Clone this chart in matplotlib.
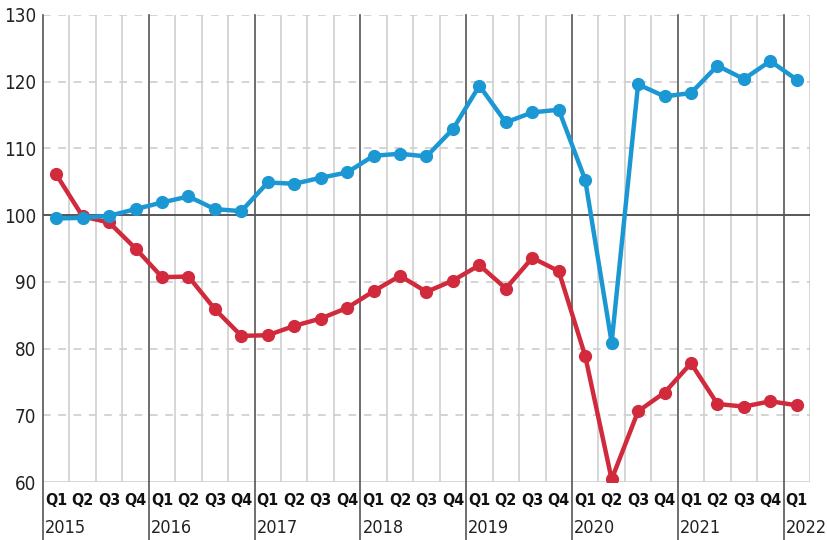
import numpy as np
import matplotlib
matplotlib.use("Agg")
from matplotlib import pyplot as plt

quarters = ["Q1", "Q2", "Q3", "Q4"] * 7 + ["Q1"]
years = ["2015", "2016", "2017", "2018", "2019", "2020", "2021", "2022"]

blue = [99.5, 99.6, 99.9, 100.9, 101.9, 102.8, 100.9, 100.6,
        104.9, 104.7, 105.6, 106.4, 108.9, 109.2, 108.8, 112.9,
        119.4, 113.9, 115.4, 115.8, 105.3, 80.9, 119.6, 117.8,
        118.3, 122.4, 120.4, 123.1, 120.3]
red = [106.1, 99.8, 98.9, 95.0, 90.7, 90.8, 85.9, 81.9,
       82.0, 83.4, 84.5, 86.1, 88.6, 90.9, 88.5, 90.2,
       92.5, 89.0, 93.6, 91.6, 78.9, 60.4, 70.6, 73.4,
       77.8, 71.7, 71.3, 72.1, 71.5]

plt.rcParams['font.family'] = ["DejaVu Sans"]
plt.rcParams['font.stretch'] = "condensed"

fig = plt.figure(figsize=(8.28, 5.40), dpi=100)
ax = fig.add_axes([43 / 828, 58 / 540, 767 / 828, 467 / 540])

n = len(blue)
x = np.arange(n)
ax.set_xlim(-0.5, n - 0.5)
ax.set_ylim(60, 130)

# horizontal grid
for v in range(70, 131, 10):
    if v == 100:
        continue
    ax.axhline(v, color="#c9c9c9", lw=1.1, ls=(0, (5, 5)), zorder=1)
ax.axhline(60, color="#d0d0d0", lw=1.2, zorder=1)
ax.axhline(100, color="#4a4a4a", lw=1.3, zorder=2)

# vertical grid: dark at year boundaries, light at quarters
for i in range(n + 1):
    xb = i - 0.5
    if i % 4 == 0:
        ax.plot([xb, xb], [-0.165, 1], transform=ax.get_xaxis_transform(),
                color="#555555", lw=1.2, clip_on=False, zorder=2)
    else:
        ax.axvline(xb, color="#cfcfcf", lw=1.2, zorder=1)

ax.plot(x, red, color="#d12a3c", lw=3.2, marker="o", ms=8.5, zorder=4)
ax.plot(x, blue, color="#1b98d3", lw=3.2, marker="o", ms=8.5, zorder=5)

for s in ax.spines.values():
    s.set_visible(False)

ax.set_yticks(range(60, 131, 10))
ax.set_yticklabels([str(v) for v in range(60, 131, 10)], fontsize=13.5,
                   color="#222222", fontstretch="condensed")
ax.tick_params(axis="y", length=0, pad=5)
ax.set_xticks(x)
ax.set_xticklabels(quarters, fontsize=11.5, fontweight="bold", color="#111111",
                   fontstretch="condensed")
ax.tick_params(axis="x", length=0, pad=8)

for k, yr in enumerate(years):
    ax.text(k * 4 - 0.5 + 0.08, -0.098, yr, transform=ax.get_xaxis_transform(),
            ha="left", va="center", fontsize=13, color="#222222",
            fontstretch="condensed")

plt.savefig("out.png", dpi=100)
plt.close(fig)
